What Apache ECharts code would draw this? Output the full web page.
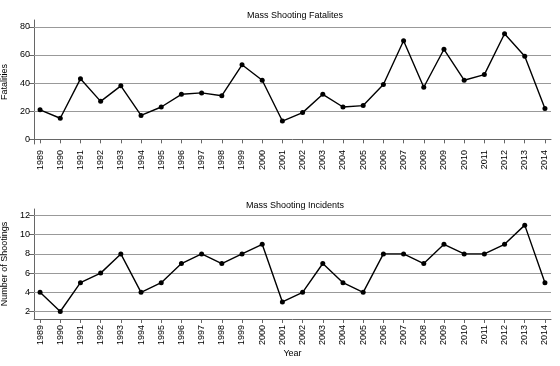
<!DOCTYPE html>
<html>
<head>
<meta charset="utf-8">
<script src="https://cdn.jsdelivr.net/npm/echarts@6/dist/echarts.min.js"></script>
<style>html,body{margin:0;padding:0;background:#fff}#c{width:560px;height:366px}</style>
</head>
<body>
<div id="c"></div>
<script>
var years = [1989,1990,1991,1992,1993,1994,1995,1996,1997,1998,1999,2000,2001,2002,2003,2004,2005,2006,2007,2008,2009,2010,2011,2012,2013,2014];
var fatalities = [21,15,43,27,38,17,23,32,33,31,53,42,13,19,32,23,24,39,70,37,64,42,46,75,59,22];
var incidents = [4,2,5,6,8,4,5,7,8,7,8,9,3,4,7,5,4,8,8,7,9,8,8,9,11,5];
var fatalTicks = [0,20,40,60,80];
var fatalGrid = [20,40,60,80];
var incidentTicks = [2,4,6,8,10,12];
var titles = ['Mass Shooting Fatalites','Mass Shooting Incidents'];

var FONT = 'Liberation Sans, Arial, sans-serif';
var chart = echarts.init(document.getElementById('c'), null, {renderer:'canvas'});

function pairs(vals){ return years.map(function(y,i){ return [y, vals[i]]; }); }
function xAxisDef(idx, name){
  return {
    type:'value', gridIndex:idx, min:1988.7, max:2014.3,
    splitLine:{show:false},
    axisLine:{show:true, lineStyle:{color:'#666', width:1}},
    axisTick:{show:true, customValues:years, length:4, lineStyle:{color:'#666'}},
    axisLabel:{show:true, customValues:years, rotate:90, fontSize:9, color:'#000', fontFamily:FONT, margin:6,
      formatter:function(v){ return String(Math.round(v)); }},
    name:name, nameLocation:'middle', nameGap:30,
    nameTextStyle:{fontSize:9, color:'#000', fontFamily:FONT}
  };
}
function yAxisDef(idx, min, max, ticks, name){
  return {
    type:'value', gridIndex:idx, min:min, max:max,
    splitLine:{show:false},
    axisLine:{show:true, lineStyle:{color:'#666', width:1}},
    axisTick:{show:true, customValues:ticks, length:5, lineStyle:{color:'#666'}},
    axisLabel:{show:true, customValues:ticks, fontSize:9, color:'#000', fontFamily:FONT, margin:4},
    name:name, nameLocation:'middle', nameGap:21, nameRotate:90,
    nameTextStyle:{fontSize:9, color:'#000', fontFamily:FONT}
  };
}
function gridSeries(idx, ticks){
  return {
    type:'line', xAxisIndex:idx, yAxisIndex:idx, data:[], z:1, silent:true,
    markLine:{silent:true, symbol:'none', label:{show:false}, animation:false, z:1,
      lineStyle:{color:'#999', type:'solid', width:1.2},
      data:ticks.map(function(t){ return {yAxis:t}; })}
  };
}
function series(idx, vals){
  return {
    type:'line', xAxisIndex:idx, yAxisIndex:idx, data:pairs(vals),
    symbol:'circle', symbolSize:5, showAllSymbol:true,
    itemStyle:{color:'#000'}, lineStyle:{color:'#000', width:1.4},
    animation:false, silent:true, z:5
  };
}

chart.setOption({
  animation:false,
  backgroundColor:'#fff',
  title:[
    {text:titles[0], left:290, top:6, textAlign:'center', textStyle:{fontSize:9, fontWeight:'normal', color:'#000', fontFamily:FONT}},
    {text:titles[1], left:290, top:196, textAlign:'center', textStyle:{fontSize:9, fontWeight:'normal', color:'#000', fontFamily:FONT}}
  ],
  grid:[
    {left:34, right:9, top:20, height:124, outerBoundsMode:'none', containLabel:false},
    {left:34, right:9, top:209, height:110, outerBoundsMode:'none', containLabel:false}
  ],
  xAxis:[xAxisDef(0,''), xAxisDef(1,'Year')],
  yAxis:[yAxisDef(0,-3.3,84.8,fatalTicks,'Fatalities'), yAxisDef(1,1.22,12.68,incidentTicks,'Number of Shootings')],
  series:[gridSeries(0,fatalGrid), gridSeries(1,incidentTicks), series(0,fatalities), series(1,incidents)]
});
</script>
</body>
</html>
